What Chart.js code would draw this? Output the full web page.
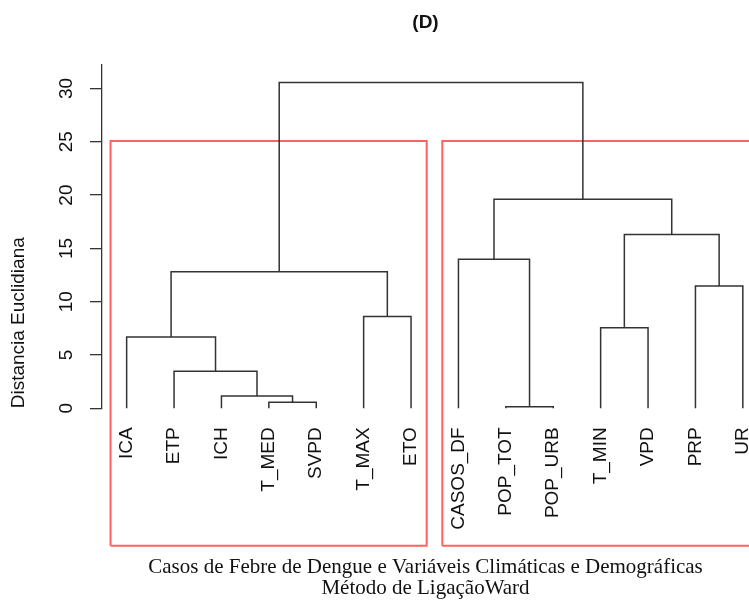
<!DOCTYPE html>
<html>
<head>
<meta charset="utf-8">
<title>Dendrograma (D)</title>
<script src="https://cdn.jsdelivr.net/npm/chart.js@4.4.0/dist/chart.umd.min.js"></script>
<style>
  html, body { margin: 0; padding: 0; background: #fff; }
  #wrap { width: 749px; height: 616px; position: relative; overflow: hidden; }
</style>
</head>
<body>
<div id="wrap"><canvas id="dend"></canvas></div>
<script>
// leaves in the order they are drawn
const leaves = ['ICA', 'ETP', 'ICH', 'T_MED', 'SVPD', 'T_MAX', 'ETO',
  'CASOS_DF', 'POP_TOT', 'POP_URB', 'T_MIN', 'VPD', 'PRP', 'UR'];

// merge steps like R hclust: negative = leaf number, positive = earlier step
const mergeLeft    = [-9, -4, -3, -2, -1, -11, -6, -13, 5, -8, 6, 10, 9];
const mergeRight   = [-10, -5, 2, 3, 4, -12, -7, -14, 7, 1, 8, 11, 12];
const mergeHeights = [0.15, 0.56, 1.15, 3.47, 6.68, 7.56, 8.6, 11.47, 12.8, 13.97, 16.3, 19.6, 30.55];

const yTicks = [0, 5, 10, 15, 20, 25, 30];

// the two groups boxed in red (first and last leaf)
const groupFirst = [1, 8];
const groupLast  = [7, 14];

const boxBottom = -12.9;   // boxes run down past the labels

// build the elbow of every merge
const nodeX = [], nodeY = [];
function nodePos(id) {
  if (id < 0) return { x: -id, y: 0 };
  return { x: nodeX[id - 1], y: nodeY[id - 1] };
}
const elbows = mergeHeights.map((h, i) => {
  const a = nodePos(mergeLeft[i]);
  const b = nodePos(mergeRight[i]);
  nodeX[i] = (a.x + b.x) / 2;
  nodeY[i] = h;
  return [{ x: a.x, y: a.y }, { x: a.x, y: h }, { x: b.x, y: h }, { x: b.x, y: b.y }];
});

const n = mergeHeights.length;
const cutHeight = (mergeHeights[n - 1] + mergeHeights[n - 2]) / 2;

const datasets = elbows.map(pts => ({
  data: pts,
  showLine: true,
  borderColor: '#333',
  borderWidth: 1.5,
  pointRadius: 0,
  tension: 0,
  clip: false
}));

groupFirst.forEach((f, i) => {
  const x0 = f - 1 + 0.66, x1 = groupLast[i] + 0.33;
  datasets.push({
    data: [{ x: x0, y: boxBottom }, { x: x0, y: cutHeight }, { x: x1, y: cutHeight },
           { x: x1, y: boxBottom }, { x: x0, y: boxBottom }],
    showLine: true,
    borderColor: 'rgba(255, 70, 70, 0.85)',
    borderWidth: 2,
    pointRadius: 0,
    tension: 0,
    clip: false
  });
});

new Chart(document.getElementById('dend'), {
  type: 'scatter',
  data: { datasets: datasets },
  options: {
    responsive: true,
    maintainAspectRatio: false,
    animation: false,
    events: [],
    layout: { padding: 0 },
    plugins: {
      legend: { display: false },
      tooltip: { enabled: false },
      title: {
        display: true,
        text: '(D)',
        fullSize: false,
        color: '#111',
        font: { family: 'Liberation Sans', size: 19, weight: 'bold' },
        padding: { top: 11.1, bottom: 31.1 }
      }
    },
    scales: {
      x: {
        type: 'linear',
        min: 0.48,
        max: 14.13,
        afterBuildTicks: s => { s.ticks = leaves.map((_, i) => ({ value: i + 1 })); },
        afterFit: s => { s.height = 207.7; s.paddingLeft = 0; s.paddingRight = 0; },
        grid: { display: false, drawTicks: false },
        border: { display: false },
        ticks: {
          autoSkip: false,
          minRotation: 90,
          maxRotation: 90,
          padding: 19,
          color: '#111',
          font: { family: 'Liberation Sans', size: 19 },
          callback: v => leaves[v - 1]
        },
        title: {
          display: true,
          text: ['Casos de Febre de Dengue e Variáveis Climáticas e Demográficas',
                 'Método de LigaçãoWard'],
          color: '#111',
          font: { family: 'Liberation Serif', size: 21, lineHeight: 1.0 },
          padding: { top: 0, bottom: 17.5 }
        }
      },
      y: {
        min: 0,
        max: 32.2,
        afterBuildTicks: s => { s.ticks = yTicks.map(v => ({ value: v })); },
        afterFit: s => { s.width = 102; s.paddingTop = 0; s.paddingBottom = 0; },
        grid: { drawOnChartArea: false, drawTicks: true, tickLength: 12, color: '#333', lineWidth: 1.3 },
        border: { display: true, color: '#333', width: 1.3 },
        ticks: {
          minRotation: 90,
          maxRotation: 90,
          crossAlign: 'center',
          padding: 12.7,
          color: '#111',
          font: { family: 'Liberation Sans', size: 19 }
        },
        title: {
          display: true,
          text: 'Distancia Euclidiana',
          align: 'start',
          color: '#111',
          font: { family: 'Liberation Sans', size: 19 },
          padding: { top: 7, bottom: 0 }
        }
      }
    }
  }
});
</script>
</body>
</html>
